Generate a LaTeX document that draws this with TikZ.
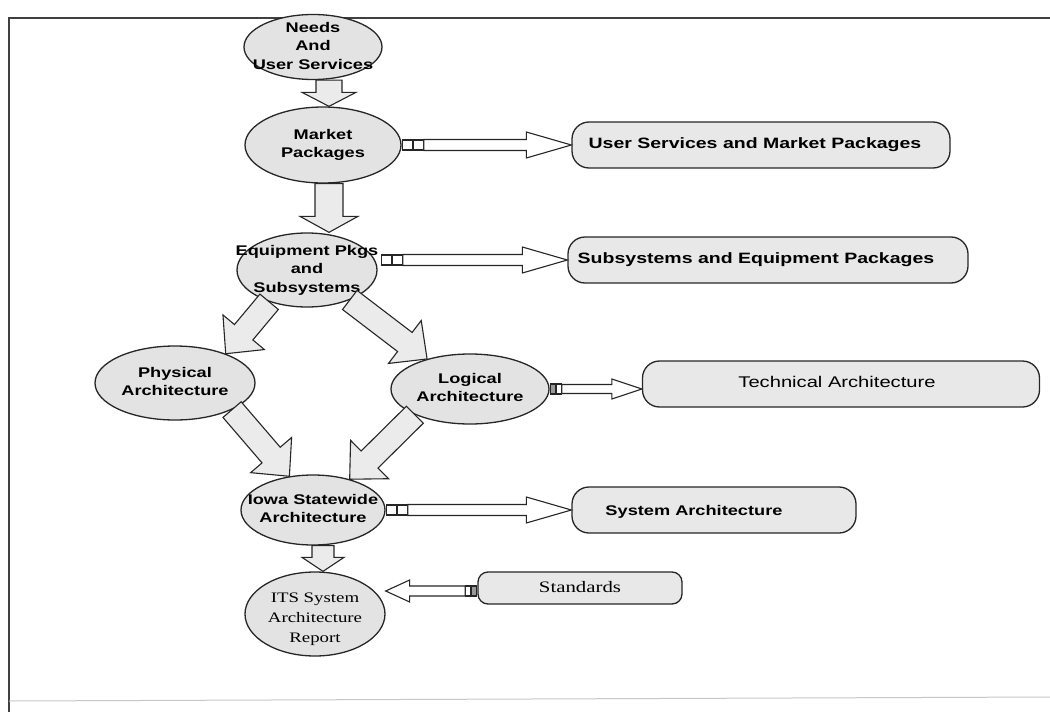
\documentclass[tikz,border=0pt]{standalone}
\usepackage{fontspec}
\usepackage{graphicx}
\setmainfont{Liberation Sans}
\newfontfamily\serifface{Liberation Serif}
\usetikzlibrary{shapes.geometric,calc}

% wide-set text block, centred lines
\newcommand\widetext[1]{\scalebox{1.3}[1]{\begin{tabular}{@{}c@{}}#1\end{tabular}}}

\tikzset{
  ell/.style={ellipse, draw=black!85, line width=1.3pt, fill=black!11, inner sep=0pt},
  lbl/.style={inner sep=0pt, font=\bfseries\fontsize{14}{18.5}\selectfont},
  boxlbl/.style={inner sep=0pt, font=\bfseries\fontsize{15}{19}\selectfont},
  slbl/.style={inner sep=0pt, font=\serifface\fontsize{14.5}{20}\selectfont},
  tbox/.style={rounded corners=17pt, draw=black!85, line width=1.3pt, fill=black!9,
    minimum height=46pt, inner sep=0pt},
  blkarrow/.style={draw=black!85, line width=1.1pt, fill=black!8, line join=miter},
  sq/.style={draw=black!85, line width=1.1pt, fill=white, minimum width=10pt,
    minimum height=10pt, inner sep=0pt},
  frameline/.style={draw=black!75, line width=2pt}
}

% block arrow: [style]{from}{to}{half shaft}{half head}{head length}
\newcommand\barrow[6][]{%
  \coordinate (ba-s) at (#2);
  \coordinate (ba-e) at (#3);
  \coordinate (ba-h) at ($(ba-e)!#6!(ba-s)$);
  \draw[blkarrow,#1] ($(ba-s)!#4!90:(ba-e)$) -- ($(ba-h)!#4!90:(ba-e)$)
    -- ($(ba-h)!#5!90:(ba-e)$) -- (ba-e) -- ($(ba-h)!#5!-90:(ba-e)$)
    -- ($(ba-h)!#4!-90:(ba-e)$) -- ($(ba-s)!#4!-90:(ba-e)$) -- cycle;
}

\begin{document}
\begin{tikzpicture}[x=1pt,y=-1pt]
\useasboundingbox (0,0) rectangle (1050,712);

% frame
\draw[frameline] (9,712) -- (9,18) -- (1050,18);
\draw[black!22, line width=1pt] (9,701) -- (1050,697);

% process ellipses
\node[ell, minimum width=138pt, minimum height=65pt] (needs) at (313,47) {};
\node[lbl] at (needs) {\widetext{Needs\\And\\User Services}};

\node[ell, minimum width=156pt, minimum height=76pt] (mp) at (323,145) {};
\node[lbl] at (mp) {\widetext{Market\\Packages}};

\node[ell, minimum width=140pt, minimum height=74pt] (eq) at (307,270) {};
\node[lbl] at (eq) {\widetext{Equipment Pkgs\\and\\Subsystems}};

\node[ell, minimum width=160pt, minimum height=74pt] (phys) at (175,383) {};
\node[lbl] at (phys) {\widetext{Physical\\Architecture}};

\node[ell, minimum width=158pt, minimum height=70pt] (log) at (470,389) {};
\node[lbl] at (log) {\widetext{Logical\\Architecture}};

\node[ell, minimum width=144pt, minimum height=70pt] (iowa) at (313,510) {};
\node[lbl] at (iowa) {\widetext{Iowa Statewide\\Architecture}};

\node[ell, minimum width=140pt, minimum height=84pt] (its) at (315,614) {};
\node[slbl] at ($(its)+(0,4)$) {\widetext{ITS System\\Architecture\\Report}};

% output boxes
\node[tbox, minimum width=378pt] (usmp) at (761,145) {};
\node[boxlbl] at ($(usmp)+(-6,0)$) {\widetext{User Services and Market Packages}};

\node[tbox, minimum width=400pt] (sep) at (768,260) {};
\node[boxlbl] at ($(sep)+(-12,0)$) {\widetext{Subsystems and Equipment Packages}};

\node[tbox, minimum width=397pt] (tech) at (841,384) {};
\node[boxlbl, font=\fontsize{15.5}{19}\selectfont] at ($(tech)+(-4,0)$) {\widetext{Technical Architecture}};

\node[tbox, minimum width=284pt] (sys) at (714,510) {};
\node[boxlbl, font=\bfseries\fontsize{14}{19}\selectfont] at ($(sys)+(-20,2)$) {\widetext{System Architecture}};

\node[tbox, minimum width=204pt, minimum height=32pt, rounded corners=10pt] (std) at (580,588) {};
\node[slbl, font=\serifface\fontsize{16}{20}\selectfont] at (std) {\widetext{Standards}};

% flow between ellipses
\coordinate (col1) at (329,0);
\coordinate (col2) at (323,0);
\barrow{col1 |- needs.south}{col1 |- mp.north}{13pt}{27pt}{14pt}
\barrow{col1 |- mp.south}{col1 |- eq.north}{14pt}{29pt}{16pt}
\barrow{eq.220}{phys.30}{12pt}{27pt}{28pt}
\barrow{eq.-35}{log.145}{12pt}{27pt}{28pt}
\barrow{phys.-25}{iowa.125}{12pt}{27pt}{28pt}
\barrow{log.205}{iowa.40}{12pt}{27pt}{28pt}
\barrow{col2 |- iowa.south}{col2 |- its.north}{11pt}{21pt}{14pt}

% links to the output boxes
\node[sq, anchor=west] (m1) at (mp.east) {};
\node[sq, anchor=west] (m2) at (m1.east) {};
\barrow[fill=white]{m2.east}{m2.east -| usmp.west}{5.5pt}{13pt}{45pt}

\node[sq, anchor=west] (e1) at ($(eq.east)+(3,-10)$) {};
\node[sq, anchor=west] (e2) at (e1.east) {};
\barrow[fill=white]{e2.east}{e2.east -| sep.west}{5.5pt}{13pt}{45pt}

\node[sq, anchor=west, minimum width=5pt, fill=black!40] (l1) at (log.east) {};
\node[sq, anchor=west, minimum width=5pt] (l2) at (l1.east) {};
\barrow[fill=white]{l2.east}{l2.east -| tech.west}{4.5pt}{10pt}{30pt}

\node[sq, anchor=west] (i1) at (iowa.east) {};
\node[sq, anchor=west] (i2) at (i1.east) {};
\barrow[fill=white]{i2.east}{i2.east -| sys.west}{5.5pt}{13pt}{45pt}

\node[sq, anchor=east, minimum width=5pt, fill=black!40] (s1) at ($(std.west)+(0,3)$) {};
\node[sq, anchor=east, minimum width=5pt] (s2) at (s1.west) {};
\barrow[fill=white]{s2.west}{s2.west -| its.east}{5pt}{11pt}{24pt}
\end{tikzpicture}
\end{document}
